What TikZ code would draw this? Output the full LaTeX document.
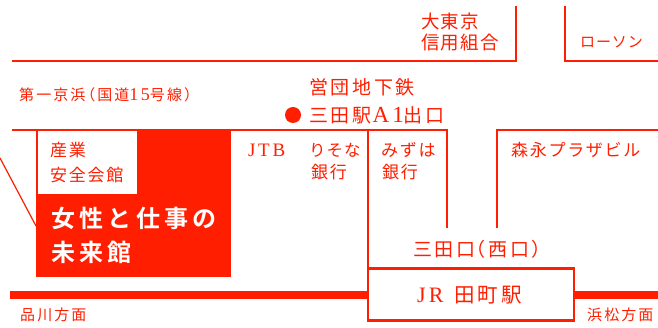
\documentclass[tikz,border=0pt]{standalone}
\usepackage{fontspec}
\setmainfont{Liberation Serif}
\newfontfamily\jplab[LetterSpace=14]{Noto Sans CJK JP}
\newfontfamily\jpshop[LetterSpace=10]{Noto Sans CJK JP}
\newfontfamily\jpsign[LetterSpace=14]{Noto Sans CJK JP}
\newfontfamily\jptight[LetterSpace=6]{Noto Sans CJK JP}
\newfontfamily\jpbig[LetterSpace=18]{Noto Sans CJK JP Bold}
\newfontfamily\latin[LetterSpace=14]{Liberation Serif}
\newcommand{\lparen}[1]{\kern-#1（}
\newcommand{\rparen}{）}
\definecolor{mapred}{RGB}{255,30,0}
\tikzset{
  road/.style={draw=mapred,line width=2.2pt},
  lab/.style={anchor=west,inner sep=0pt,text=mapred,font=\fontsize{15}{15}\selectfont\jplab},
  shop/.style={anchor=west,inner sep=0pt,text=mapred,font=\fontsize{17}{17}\selectfont\jpshop},
  sign/.style={anchor=west,inner sep=0pt,text=mapred,font=\fontsize{19}{19}\selectfont\jpsign},
  bank/.style={anchor=west,inner sep=0pt,text=mapred,font=\fontsize{18.5}{18.5}\selectfont\jptight},
  hall/.style={anchor=west,inner sep=0pt,text=white,font=\fontsize{24}{24}\selectfont\jpbig},
}
\begin{document}
\begin{tikzpicture}[x=1pt,y=-1pt]
  \useasboundingbox (0,0) rectangle (658,328);

  % roads and blocks
  \path[road] (12,61) -- (516,61) -- (516,6);
  \path[road] (565,6) -- (565,61) -- (658,61);
  \path[road] (12,130) -- (447,130) -- (447,228);
  \path[road] (658,130) -- (497,130) -- (497,228);
  \path[road] (368,130) -- (368,268);
  \path[draw=mapred,line width=1.2pt] (0,158) -- (36,226);

  % the hall
  \fill[mapred] (36,130) rectangle (231,277);
  \fill[white] (37.5,131) rectangle (137,194);

  % railway and station
  \fill[mapred] (10,291) rectangle (368,299);
  \fill[mapred] (574,291) rectangle (658,299);
  \path[road] (368,268.5) rectangle (574,320.5);

  \fill[mapred] (293,115) circle (8);

  \node[lab] (route) at (19,95) {第一京浜\lparen{.35em}国道{\fontsize{18}{18}\selectfont\latin 15}号線\rparen};
  \node[sign] (subway) at (309,87) {営団地下鉄};
  \node[sign] (exit) at (309,115) {三田駅\hspace{1pt}{\fontsize{23}{23}\selectfont\latin A1}出口};
  \node[bank] (bank1a) at (421,21) {大東京};
  \node[bank] (bank1b) at (421,43) {信用組合};
  \node[lab,font=\fontsize{15}{15}\selectfont\jptight] (lawson) at (580,42) {ローソン};

  \node[shop] (sangyo) at (50,150) {産業};
  \node[shop] (anzen) at (50,175) {安全会館};
  \node[hall] (josei) at (51,218) {女性と仕事の};
  \node[hall] (mirai) at (51,252) {未来館};

  \node[shop] (jtb) at (248,150) {{\fontsize{19}{19}\selectfont\latin JTB}};
  \node[shop,font=\fontsize{16.5}{16.5}\selectfont\jptight] (resona) at (309,150) {りそな};
  \node[shop] (resonab) at (311,172) {銀行};
  \node[shop] (mizuho) at (381,150) {みずは};
  \node[shop] (mizuhob) at (382,172) {銀行};
  \node[shop] (morinaga) at (511,150) {森永プラザビル};

  \node[sign] (mita) at (413,249) {三田口\lparen{.45em}西口\rparen};
  \node[sign,font=\fontsize{20.5}{20.5}\selectfont\jpsign] (tamachi) at (417,295) {{\fontsize{22}{22}\selectfont\latin JR}\hspace{11pt}田町駅};
  \node[lab] (shinagawa) at (20,315) {品川方面};
  \node[lab] (hamamatsu) at (587,315) {浜松方面};
\end{tikzpicture}
\end{document}
